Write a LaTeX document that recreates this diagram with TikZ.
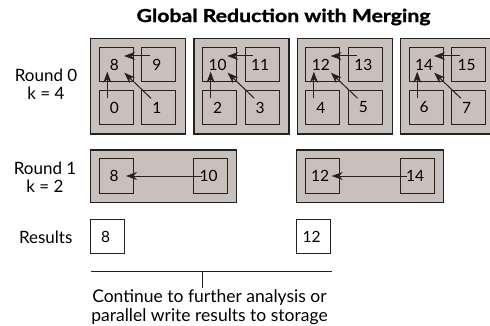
\documentclass[tikz,border=0pt]{standalone}
\usepackage{fontspec}
\setmainfont{Lato}
\usetikzlibrary{arrows.meta}
\definecolor{panelfill}{HTML}{C9C0BB}
\definecolor{ink}{HTML}{222222}
\tikzset{
  panel/.style={draw=ink, fill=panelfill, line width=1.2pt, inner sep=0pt},
  cell/.style={draw=ink, line width=1pt, minimum width=34pt, minimum height=34pt,
    inner sep=0pt, font=\fontsize{15.5}{18}\selectfont},
  result/.style={cell, fill=white},
  link/.style={draw=ink, line width=1pt, -{Stealth[length=11pt,width=8pt,inset=3.5pt]}},
  rowlabel/.style={align=center, font=\fontsize{17}{17.5}\selectfont},
  note/.style={align=center, font=\fontsize{17.5}{19}\selectfont},
  heading/.style={font=\fontsize{18}{20}\selectfont\bfseries\addfontfeatures{FakeBold=1.2}},
}
% numbers sit a little left of the cell centre
\newcommand{\cellnum}[1]{#1\kern4pt}

\begin{document}
\begin{tikzpicture}[x=1pt, y=-1pt]
  \fill[white] (0,0) rectangle (490,326);
  \useasboundingbox (0,0) rectangle (490,326);

  \node[heading] (title) at (283.5,17) {\scalebox{1.18}[1]{Global Reduction with Merging}};

  % round 0: four groups of four
  \node[rowlabel] (lab0) at (46,84) {Round 0\\k = 4};
  \foreach \i in {0,...,3}{
    \pgfmathsetmacro{\xo}{90.7+103.3*\i}
    \pgfmathtruncatemacro{\ntl}{8+2*\i}
    \pgfmathtruncatemacro{\ntr}{9+2*\i}
    \pgfmathtruncatemacro{\nbl}{2*\i}
    \pgfmathtruncatemacro{\nbr}{2*\i+1}
    \node[panel, minimum width=95pt, minimum height=95.3pt] (rz\i) at (\xo+47.5,86.35) {};
    \node[cell] (tl\i) at (\xo+25.6,64.5) {\cellnum{\ntl}};
    \node[cell] (tr\i) at (\xo+68.1,64.5) {\cellnum{\ntr}};
    \node[cell] (bl\i) at (\xo+25.6,107.5) {\cellnum{\nbl}};
    \node[cell] (br\i) at (\xo+68.1,107.5) {\cellnum{\nbr}};
    \draw[link] ([shift={(-8.8,-8.5)}]tr\i.center) -- ([shift={(7.7,-8.5)}]tl\i.center);
    \draw[link] ([shift={(-9,-9.2)}]bl\i.center) -- ([shift={(-9,7.2)}]tl\i.center);
    \draw[link] ([shift={(-7.8,-9.2)}]br\i.center) -- ([shift={(8,8.2)}]tl\i.center);
  }

  % round 1: two groups of two
  \node[rowlabel] (lab1) at (45,177) {Round 1\\k = 2};
  \node[panel, minimum width=146pt, minimum height=52.3pt] (ro0) at (163.7,176.15) {};
  \node[panel, minimum width=146.6pt, minimum height=52.3pt] (ro1) at (370,176.15) {};
  \node[cell] (ma) at (116.2,176) {\cellnum{8}};
  \node[cell] (mb) at (210.5,176) {\cellnum{10}};
  \node[cell] (mc) at (322.2,176) {\cellnum{12}};
  \node[cell] (md) at (417,176) {\cellnum{14}};
  \draw[link] ([xshift=-8.8pt]mb.center) -- ([xshift=9.8pt]ma.center);
  \draw[link] ([xshift=-10.3pt]md.center) -- ([xshift=9.5pt]mc.center);

  % results
  \node[rowlabel] (lab2) at (45.7,237.7) {Results};
  \node[result] (res0) at (107.5,236.7) {\cellnum{8}};
  \node[result] (res1) at (313.7,236.7) {\cellnum{12}};

  % bracket gathering the results
  \coordinate (bl) at (90.7,271);
  \coordinate (br) at (331.7,271);
  \coordinate (bm) at (202.3,271);
  \coordinate (bt) at (202.3,287.7);
  \draw[ink, line width=1pt] (bl) -- (br);
  \draw[ink, line width=1pt] (bm) -- (bt);
  \node[note] (next) at (209.5,307.5) {Continue to further analysis or\\parallel write results to storage};
\end{tikzpicture}
\end{document}
